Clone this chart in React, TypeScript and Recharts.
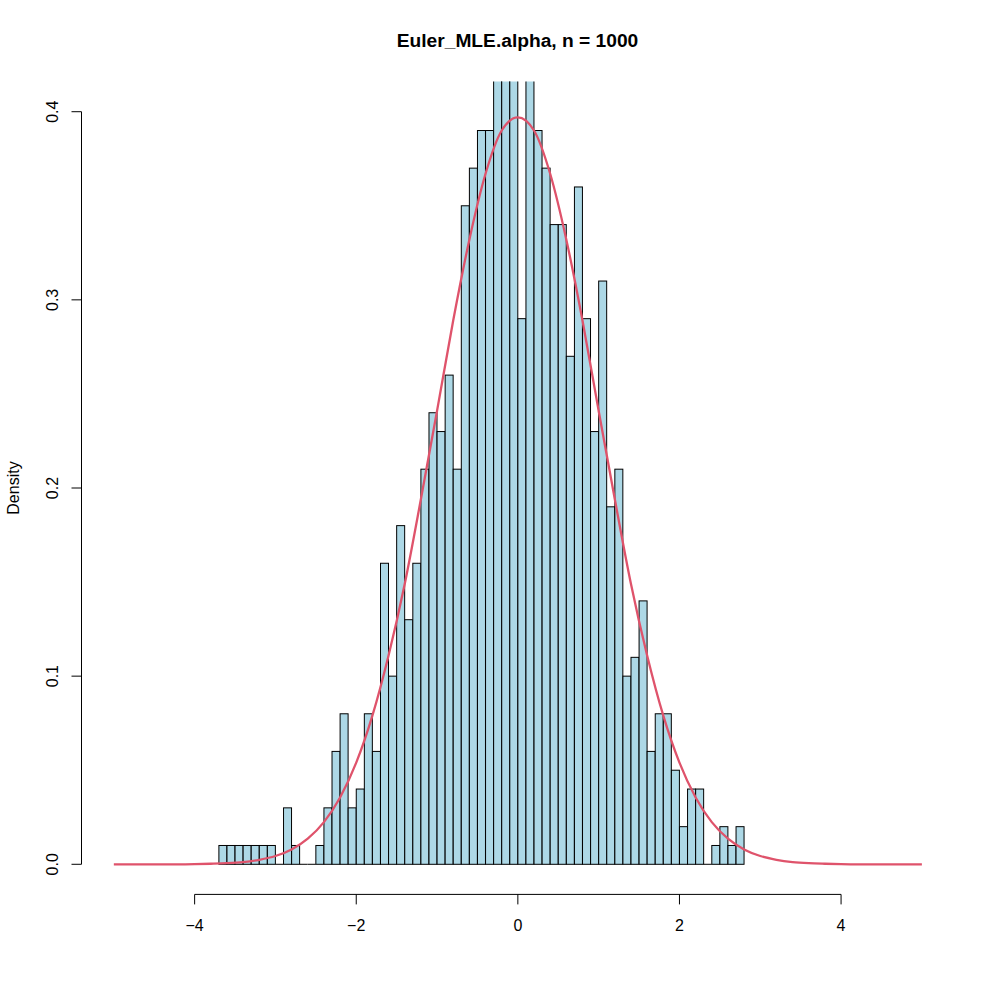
import React from 'react';
import { ComposedChart, Bar, Line, XAxis, YAxis, ReferenceLine } from 'recharts';

// Histogram bins (midpoints of 0.1-wide bins from -3.7 to 2.8) and their densities
const binMids = [
  -3.65, -3.55, -3.45, -3.35, -3.25, -3.15, -3.05, -2.95, -2.85, -2.75,
  -2.65, -2.55, -2.45, -2.35, -2.25, -2.15, -2.05, -1.95, -1.85, -1.75,
  -1.65, -1.55, -1.45, -1.35, -1.25, -1.15, -1.05, -0.95, -0.85, -0.75,
  -0.65, -0.55, -0.45, -0.35, -0.25, -0.15, -0.05, 0.05, 0.15, 0.25,
  0.35, 0.45, 0.55, 0.65, 0.75, 0.85, 0.95, 1.05, 1.15, 1.25,
  1.35, 1.45, 1.55, 1.65, 1.75, 1.85, 1.95, 2.05, 2.15, 2.25,
  2.35, 2.45, 2.55, 2.65, 2.75,
];
const densities = [
  0.01, 0.01, 0.01, 0.01, 0.01, 0.01, 0.01, 0.0, 0.03, 0.01,
  0.0, 0.0, 0.01, 0.03, 0.06, 0.08, 0.03, 0.04, 0.08, 0.06,
  0.16, 0.10, 0.18, 0.13, 0.16, 0.21, 0.24, 0.23, 0.26, 0.21,
  0.35, 0.37, 0.39, 0.39, 0.42, 0.46, 0.45, 0.29, 0.42, 0.39,
  0.37, 0.34, 0.34, 0.27, 0.36, 0.29, 0.23, 0.31, 0.19, 0.21,
  0.10, 0.11, 0.14, 0.06, 0.08, 0.08, 0.05, 0.02, 0.04, 0.04,
  0.0, 0.01, 0.02, 0.01, 0.02,
];

// Red density curve
const curveX = [
  -5, -4.8, -4.6, -4.4, -4.2, -4, -3.8, -3.6, -3.4, -3.2, -3, -2.8, -2.6,
  -2.4, -2.2, -2, -1.8, -1.6, -1.4, -1.2, -1, -0.8, -0.6, -0.4, -0.2, 0,
  0.2, 0.4, 0.6, 0.8, 1, 1.2, 1.4, 1.6, 1.8, 2, 2.2, 2.4, 2.6, 2.8, 3,
  3.2, 3.4, 3.6, 3.8, 4, 4.2, 4.4, 4.6, 4.8, 5,
];
const curveY = [
  0, 0, 0, 0, 0, 0.0001, 0.0003, 0.0006, 0.0012, 0.0024, 0.0044, 0.0079, 0.0136,
  0.0224, 0.0355, 0.054, 0.079, 0.111, 0.149, 0.194, 0.241, 0.289, 0.332, 0.367, 0.390, 0.397,
  0.390, 0.367, 0.332, 0.289, 0.241, 0.194, 0.149, 0.111, 0.079, 0.054, 0.0355, 0.0224, 0.0136, 0.0079, 0.0044,
  0.0024, 0.0012, 0.0006, 0.0003, 0.0001, 0, 0, 0, 0, 0,
];

const xTicks = [-4, -2, 0, 2, 4];
const yTicks = [0, 0.1, 0.2, 0.3, 0.4];
const yTickLabels = ['0.0', '0.1', '0.2', '0.3', '0.4'];
const title = 'Euler_MLE.alpha, n = 1000';
const yLabel = 'Density';

const X_DOMAIN: [number, number] = [-5.4, 5.4];
const Y_DOMAIN: [number, number] = [-0.016, 0.416];

const FONT = '"Liberation Sans", Arial, Helvetica, sans-serif';

const rows = [
  ...binMids.map((x, i) => ({ x, density: densities[i] })),
  ...curveX.map((x, i) => ({ x, curve: curveY[i] })),
].sort((a, b) => a.x - b.x);

const fmtX = (v: number) => (v < 0 ? '\u2212' + Math.abs(v) : String(v));

const XTick = (props: any) => {
  const { x, y, payload } = props;
  return (
    <text x={x} y={y + 26.4} textAnchor="middle" fontSize={16} fontFamily={FONT} fill="#000">
      {fmtX(payload.value)}
    </text>
  );
};

const YTick = (props: any) => {
  const { x, y, payload } = props;
  const idx = yTicks.indexOf(payload.value);
  const label = idx >= 0 ? yTickLabels[idx] : String(payload.value);
  return (
    <g transform={`translate(${x - 13.2},${y}) rotate(-90)`}>
      <text x={0} y={0} textAnchor="middle" fontSize={16} fontFamily={FONT} fill="#000">
        {label}
      </text>
    </g>
  );
};

// The band of the number axis is the half-bin spacing between the bar
// midpoints and the curve points, so each histogram cell spans two bands.
const HistCell = (props: any) => {
  const { x, y, width, height, payload } = props;
  if (!payload || payload.density == null) return null;
  if (![x, y, width].every((v) => Number.isFinite(v))) return null;
  const cx = x + width / 2;
  const w = width * 2;
  if (!(height > 0)) {
    return <line x1={cx - w / 2} x2={cx + w / 2} y1={y} y2={y} stroke="#000" strokeWidth={1} />;
  }
  return (
    <rect x={cx - w / 2} y={y} width={w} height={height} fill="#ADD8E6" stroke="#000" strokeWidth={1} />
  );
};

export default function App() {
  return (
    <div style={{ position: 'absolute', left: 0, top: 0, width: 996, height: 996, background: '#fff' }}>
      <div
        style={{
          position: 'absolute',
          left: 317.5,
          width: 400,
          top: 31,
          lineHeight: '20px',
          textAlign: 'center',
          fontFamily: FONT,
          fontWeight: 'bold',
          fontSize: 19.2,
          color: '#000',
        }}
      >
        {title}
      </div>
      <div
        style={{
          position: 'absolute',
          left: 14 - 60,
          top: 488 - 10,
          width: 120,
          height: 20,
          lineHeight: '20px',
          textAlign: 'center',
          fontFamily: FONT,
          fontSize: 16,
          color: '#000',
          transform: 'rotate(-90deg)',
        }}
      >
        {yLabel}
      </div>
      <ComposedChart
        width={996}
        height={996}
        data={rows}
        barCategoryGap={0}
        barGap={0}
        margin={{ top: 81.6, left: 21.5, right: 41.8, bottom: 51.6 }}
        style={{ position: 'absolute', left: 0, top: 0, fontFamily: FONT }}
      >
        <XAxis
          type="number"
          dataKey="x"
          domain={X_DOMAIN}
          allowDataOverflow
          ticks={xTicks}
          interval={0}
          axisLine={false}
          tickLine={{ stroke: '#000', strokeWidth: 1 }}
          tickSize={10}
          tickMargin={0}
          height={50}
          tick={<XTick />}
        />
        <YAxis
          type="number"
          domain={Y_DOMAIN}
          allowDataOverflow
          ticks={yTicks}
          interval={0}
          axisLine={false}
          tickLine={{ stroke: '#000', strokeWidth: 1 }}
          tickSize={10}
          tickMargin={0}
          width={60}
          tick={<YTick />}
        />
        <Bar
          dataKey="density"
          fill="#ADD8E6"
          stroke="#000"
          strokeWidth={1}
          shape={<HistCell />}
          isAnimationActive={false}
        />
        <Line
          dataKey="curve"
          type="monotone"
          stroke="#DF536B"
          strokeWidth={2.3}
          dot={false}
          activeDot={false}
          connectNulls
          isAnimationActive={false}
        />
        <ReferenceLine
          segment={[{ x: -4, y: Y_DOMAIN[0] }, { x: 4, y: Y_DOMAIN[0] }]}
          stroke="#000"
          strokeWidth={1}
          ifOverflow="visible"
        />
        <ReferenceLine
          segment={[{ x: X_DOMAIN[0], y: 0 }, { x: X_DOMAIN[0], y: 0.4 }]}
          stroke="#000"
          strokeWidth={1}
          ifOverflow="visible"
        />
      </ComposedChart>
    </div>
  );
}
